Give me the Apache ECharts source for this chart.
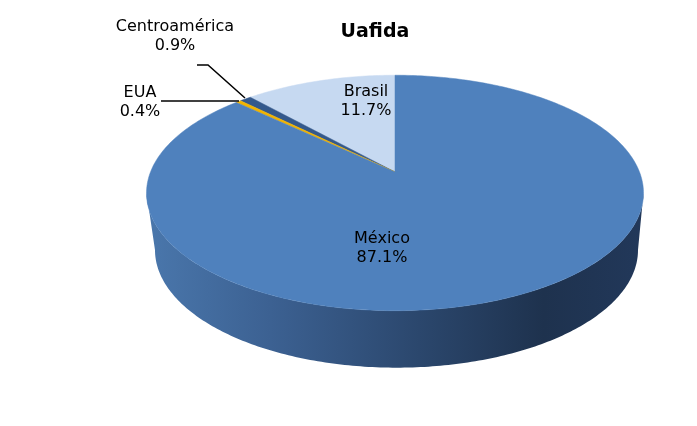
<!DOCTYPE html>
<html>
<head>
<meta charset="utf-8">
<script src="https://cdn.jsdelivr.net/npm/echarts@6/dist/echarts.min.js"></script>
<style>html,body{margin:0;padding:0;background:#fff}#c{width:697px;height:426px}</style>
</head>
<body>
<div id="c"></div>
<script>
const title = 'Uafida';
const categories = ['Brasil', 'Centroamérica', 'EUA', 'México'];
const values = [11.7, 0.9, 0.4, 87.1];

const sliceColors = ['#C6D9F1', '#34598C', '#F2B400', '#4F81BD'];
const FONT = '"DejaVu Sans", Verdana, sans-serif';

// projection of the tilted disc (perspective)
const CX = 395, CY = 172, A = 244.5, B = 114, K = 0.178, H = 57, SHRINK = 0.972;
function proj(phi) {
  const u = -Math.sin(phi), v = -Math.cos(phi);
  const w = 1 - K * v;
  return [CX + A * u / w, CY + B * v / w];
}
function projBottom(phi) {
  const p = proj(phi);
  return [CX + 1.5 + (p[0] - CX) * SHRINK, p[1] + H];
}
const total = values.reduce((a, b) => a + b, 0);
const starts = [], ends = [];
let acc = 0;
values.forEach(v => { starts.push(acc / total * 2 * Math.PI); acc += v; ends.push(acc / total * 2 * Math.PI); });
const VIS0 = Math.acos(-K) , VIS1 = 2 * Math.PI - Math.acos(-K);

// label placements (style)
const labelPos = {
  'Brasil': {x: 366, y: 101, align: 'center'},
  'Centroamérica': {x: 175, y: 36, align: 'center'},
  'EUA': {x: 140, y: 102, align: 'center'},
  'México': {x: 382, y: 248, align: 'center'}
};
const leaders = {
  'Centroamérica': [[197, 65], [208, 65], [245, 98]],
  'EUA': [[161, 101], [239, 101]]
};

function renderItem(params, api) {
  const i = params.dataIndex;
  const a0 = starts[i], a1 = ends[i];
  const children = [];
  // side wall
  const w0 = Math.max(a0, VIS0), w1 = Math.min(a1, VIS1);
  if (w1 > w0) {
    const pts = [];
    const n = 200;
    for (let s = 0; s <= n; s++) pts.push(proj(w0 + (w1 - w0) * s / n));
    for (let s = n; s >= 0; s--) pts.push(projBottom(w0 + (w1 - w0) * s / n));
    children.push({
      type: 'polygon', shape: {points: pts},
      style: {fill: new echarts.graphic.LinearGradient(146, 0, 643, 0, [
        {offset: 0, color: '#4A77AC'},
        {offset: 0.25, color: '#3C6192'},
        {offset: 0.55, color: '#2B476D'},
        {offset: 0.8, color: '#1E324E'},
        {offset: 1, color: '#22385A'}
      ], true), stroke: null}
    });
  }
  // top face
  const pts = [[CX, CY]];
  const n = Math.max(4, Math.ceil((a1 - a0) / (2 * Math.PI) * 400));
  for (let s = 0; s <= n; s++) pts.push(proj(a0 + (a1 - a0) * s / n));
  children.push({type: 'polygon', shape: {points: pts}, style: {fill: sliceColors[i], stroke: sliceColors[i], lineWidth: 0.5}});
  // leader
  const name = categories[i];
  if (leaders[name]) {
    children.push({type: 'polyline', shape: {points: leaders[name]}, style: {stroke: '#000', lineWidth: 1.5, fill: null}});
  }
  const lp = labelPos[name];
  children.push({
    type: 'text', z2: 10,
    style: {
      text: name + '\n' + api.value(1).toFixed(1) + '%',
      x: lp.x, y: lp.y, align: lp.align, verticalAlign: 'middle',
      font: '16px ' + FONT, lineHeight: 19, fill: '#000'
    }
  });
  return {type: 'group', children: children};
}

const chart = echarts.init(document.getElementById('c'), null, {renderer: 'canvas'});
chart.setOption({
  animation: false,
  title: {text: title, left: 370, top: 18, textAlign: 'center',
    textStyle: {fontFamily: FONT, fontSize: 19, fontWeight: 'bold', color: '#000'}},
  series: [{
    type: 'custom', coordinateSystem: 'none',
    renderItem: renderItem,
    data: categories.map((c, i) => [c, values[i]])
  }]
});
</script>
</body>
</html>
